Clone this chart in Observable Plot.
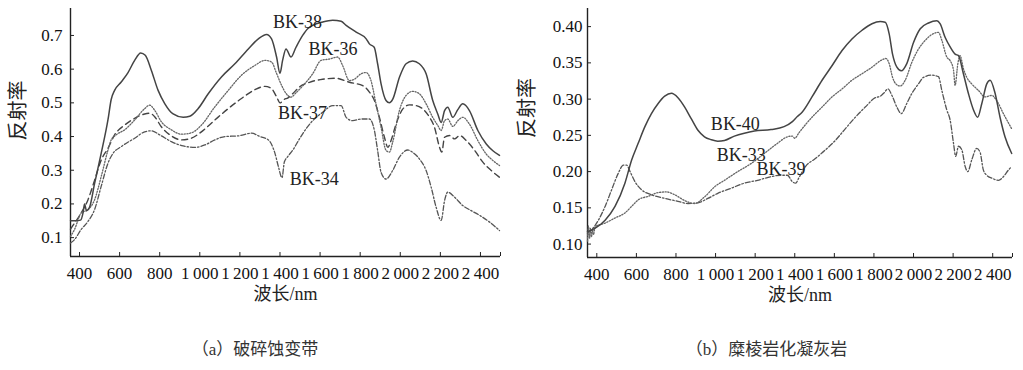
<!DOCTYPE html>
<html><head><meta charset="utf-8">
<script src="https://cdn.jsdelivr.net/npm/d3@7"></script>
<script src="https://cdn.jsdelivr.net/npm/@observablehq/plot@0.6"></script>
<style>
body{margin:0;background:#fff;width:1023px;height:370px;overflow:hidden}
#row{display:flex;align-items:flex-start}
.panel svg{display:block}
.panel svg text{font-family:"Liberation Serif","Noto Sans CJK SC",serif;font-variant:normal}
.cap{text-align:center;font-family:"Liberation Serif","Noto Sans CJK SC",serif;font-size:17px;line-height:20px;color:#333;margin-top:28px}
</style></head>
<body>
<div id="row"><div class="panel" id="pa" style="width:510px"></div><div class="panel" id="pb" style="width:513px"></div></div>
<script>
// ---------- tick labels ----------
const xTicks = [400,600,800,1000,1200,1400,1600,1800,2000,2200,2400];
const xTickMarks = [400,600,800,1000,1200,1400,1600,1800,2000,2200,2400,2500];
const yTicksA = [0.1,0.2,0.3,0.4,0.5,0.6,0.7];
const yTicksB = [0.10,0.15,0.20,0.25,0.30,0.35,0.40];

// ---------- (a) 破碎蚀变带 : [wavelength nm, reflectance] ----------
const bk38 = [[355,0.150],[380,0.150],[405,0.152],[418,0.175],[425,0.200],[435,0.180],[450,0.190],[475,0.260],[508,0.350],[542,0.450],[558,0.510],[575,0.537],[608,0.562],[642,0.590],[675,0.626],[705,0.648],[728,0.641],[758,0.597],[792,0.537],[825,0.498],[867,0.467],[917,0.457],[950,0.460],[992,0.483],[1042,0.527],[1108,0.577],[1175,0.616],[1242,0.660],[1292,0.690],[1333,0.703],[1358,0.690],[1383,0.636],[1400,0.588],[1413,0.626],[1430,0.660],[1455,0.636],[1480,0.665],[1513,0.700],[1538,0.720],[1563,0.730],[1613,0.740],[1663,0.745],[1705,0.742],[1730,0.730],[1780,0.710],[1830,0.690],[1846,0.675],[1870,0.665],[1887,0.616],[1904,0.557],[1929,0.507],[1946,0.500],[1962,0.510],[1996,0.576],[2029,0.616],[2062,0.624],[2095,0.616],[2129,0.586],[2162,0.507],[2187,0.467],[2204,0.442],[2221,0.477],[2237,0.487],[2262,0.457],[2287,0.480],[2312,0.497],[2345,0.477],[2387,0.418],[2429,0.378],[2462,0.358],[2495,0.344]];
const bk36 = [[355,0.104],[375,0.124],[408,0.173],[442,0.183],[475,0.212],[508,0.281],[542,0.360],[558,0.390],[583,0.405],[625,0.420],[675,0.449],[725,0.483],[750,0.493],[775,0.478],[808,0.444],[858,0.420],[908,0.407],[958,0.411],[1008,0.434],[1075,0.488],[1142,0.537],[1208,0.582],[1275,0.611],[1325,0.626],[1358,0.621],[1383,0.587],[1408,0.552],[1430,0.528],[1455,0.517],[1480,0.530],[1513,0.550],[1563,0.586],[1605,0.626],[1647,0.630],[1688,0.636],[1713,0.610],[1746,0.566],[1771,0.570],[1804,0.586],[1829,0.590],[1854,0.566],[1879,0.497],[1904,0.428],[1929,0.359],[1946,0.354],[1962,0.383],[1996,0.478],[2029,0.522],[2062,0.534],[2095,0.527],[2129,0.497],[2162,0.457],[2187,0.433],[2204,0.418],[2221,0.447],[2237,0.452],[2262,0.430],[2287,0.447],[2312,0.457],[2345,0.437],[2387,0.388],[2429,0.348],[2462,0.329],[2495,0.314]];
const bk37 = [[355,0.125],[375,0.143],[408,0.173],[442,0.212],[475,0.270],[508,0.330],[542,0.365],[575,0.405],[625,0.434],[675,0.454],[725,0.467],[750,0.469],[775,0.459],[808,0.429],[858,0.402],[908,0.390],[958,0.395],[1008,0.414],[1075,0.449],[1142,0.483],[1208,0.513],[1275,0.539],[1325,0.549],[1358,0.542],[1383,0.518],[1400,0.500],[1420,0.510],[1440,0.515],[1463,0.527],[1497,0.547],[1547,0.561],[1613,0.570],[1680,0.573],[1746,0.561],[1813,0.551],[1846,0.532],[1871,0.507],[1896,0.457],[1921,0.398],[1938,0.368],[1954,0.388],[1979,0.437],[2013,0.482],[2046,0.494],[2079,0.492],[2112,0.482],[2146,0.457],[2171,0.427],[2196,0.368],[2207,0.354],[2221,0.398],[2246,0.403],[2271,0.393],[2296,0.403],[2329,0.388],[2371,0.359],[2412,0.324],[2454,0.299],[2495,0.279]];
const bk34 = [[355,0.084],[375,0.094],[408,0.124],[442,0.148],[475,0.183],[508,0.252],[542,0.321],[567,0.350],[608,0.370],[675,0.395],[725,0.414],[758,0.417],[800,0.405],[858,0.385],[917,0.372],[975,0.368],[1025,0.375],[1075,0.390],[1125,0.400],[1192,0.402],[1258,0.410],[1300,0.400],[1342,0.390],[1375,0.350],[1392,0.311],[1410,0.278],[1422,0.325],[1438,0.340],[1463,0.359],[1497,0.393],[1530,0.423],[1563,0.447],[1613,0.472],[1663,0.492],[1705,0.492],[1730,0.457],[1763,0.447],[1805,0.452],[1846,0.452],[1871,0.418],[1887,0.359],[1904,0.294],[1929,0.274],[1962,0.299],[1996,0.339],[2038,0.360],[2062,0.353],[2095,0.334],[2129,0.299],[2154,0.250],[2179,0.190],[2204,0.151],[2221,0.210],[2237,0.235],[2271,0.220],[2312,0.195],[2354,0.180],[2396,0.166],[2446,0.146],[2495,0.121]];
const labelsA = ["BK-38","BK-36","BK-37","BK-34"];
const labelsANm = [1487,1665,1512,1571];
const labelsAR = [0.739,0.659,0.468,0.274];

// ---------- (b) 糜棱岩化凝灰岩 ----------
const bk40 = [[353,0.117],[392,0.122],[442,0.133],[492,0.152],[542,0.184],[576,0.216],[609,0.239],[643,0.262],[676,0.280],[710,0.294],[743,0.304],[777,0.308],[810,0.302],[844,0.289],[877,0.273],[911,0.257],[944,0.248],[978,0.244],[1011,0.242],[1045,0.243],[1095,0.249],[1145,0.253],[1196,0.256],[1280,0.258],[1346,0.262],[1388,0.269],[1413,0.276],[1437,0.282],[1487,0.303],[1538,0.326],[1588,0.346],[1639,0.367],[1689,0.383],[1740,0.395],[1790,0.404],[1832,0.407],[1857,0.406],[1877,0.390],[1894,0.362],[1916,0.344],[1938,0.339],[1966,0.349],[2000,0.378],[2034,0.397],[2076,0.405],[2118,0.408],[2134,0.404],[2160,0.385],[2185,0.372],[2210,0.362],[2227,0.360],[2252,0.335],[2277,0.308],[2303,0.285],[2324,0.275],[2345,0.294],[2370,0.321],[2387,0.326],[2412,0.308],[2437,0.275],[2462,0.248],[2496,0.225]];
const bk33 = [[353,0.104],[358,0.125],[363,0.108],[368,0.122],[373,0.110],[378,0.121],[383,0.113],[392,0.124],[442,0.129],[492,0.136],[542,0.143],[576,0.152],[609,0.161],[660,0.166],[710,0.171],[752,0.172],[794,0.168],[844,0.160],[894,0.156],[944,0.165],[995,0.179],[1045,0.188],[1112,0.200],[1179,0.211],[1246,0.225],[1313,0.239],[1363,0.248],[1388,0.249],[1400,0.246],[1420,0.253],[1437,0.259],[1487,0.275],[1538,0.289],[1588,0.303],[1639,0.314],[1689,0.326],[1740,0.335],[1790,0.344],[1840,0.354],[1860,0.356],[1877,0.349],[1894,0.330],[1911,0.321],[1933,0.318],[1958,0.326],[1992,0.351],[2025,0.369],[2059,0.381],[2092,0.389],[2126,0.392],[2143,0.381],[2168,0.358],[2185,0.353],[2202,0.340],[2210,0.319],[2224,0.349],[2235,0.360],[2252,0.342],[2269,0.330],[2294,0.321],[2328,0.312],[2361,0.303],[2395,0.305],[2420,0.298],[2454,0.280],[2496,0.259]];
const bk39 = [[353,0.115],[375,0.120],[408,0.133],[442,0.152],[475,0.175],[509,0.198],[534,0.209],[551,0.209],[568,0.200],[593,0.186],[626,0.175],[676,0.168],[743,0.163],[810,0.159],[861,0.156],[911,0.157],[961,0.163],[1011,0.170],[1078,0.177],[1145,0.184],[1212,0.188],[1280,0.193],[1330,0.195],[1363,0.195],[1388,0.186],[1405,0.184],[1420,0.191],[1454,0.207],[1504,0.218],[1555,0.230],[1605,0.243],[1655,0.259],[1706,0.275],[1756,0.289],[1807,0.302],[1832,0.304],[1849,0.308],[1871,0.314],[1891,0.305],[1916,0.289],[1938,0.280],[1966,0.294],[1992,0.308],[2025,0.321],[2050,0.330],[2092,0.333],[2126,0.331],[2143,0.312],[2168,0.285],[2185,0.271],[2202,0.239],[2213,0.221],[2227,0.235],[2244,0.230],[2261,0.207],[2274,0.200],[2294,0.216],[2319,0.232],[2336,0.227],[2353,0.202],[2370,0.195],[2395,0.191],[2429,0.188],[2454,0.193],[2479,0.202],[2496,0.207]];
const labelsB = ["BK-40","BK-33","BK-39"];
const labelsBNm = [1100,1130,1330];
const labelsBR = [0.265,0.223,0.203];

const captionA = "（a）破碎蚀变带";
const captionB = "（b）糜棱岩化凝灰岩";
const xLabel = "波长/nm";
const yLabel = "反射率";

// ---------- styles ----------
const FONT = "Liberation Serif, Noto Sans CJK SC, serif";
const solid = {stroke:"#444", strokeWidth:1.5};
const dotted = {stroke:"#666", strokeWidth:1.3, strokeDasharray:"1.2,1.6"};
const dashed = {stroke:"#444", strokeWidth:1.4, strokeDasharray:"6,4"};
const dashdot = {stroke:"#555", strokeWidth:1.3, strokeDasharray:"5,2,1.5,2"};

const fmtNm = d => d >= 1000 ? `${Math.floor(d/1000)}\u2009${String(d%1000).padStart(3,"0")}` : `${d}`;

function panel({series, names, nms, rs, xDomain, yDomain, yTicks, yFmt, width, mL, mR, mB, yPad, ylDx, ylDy}) {
  const marks = [
    Plot.axisX({ticks: xTicks, tickFormat: fmtNm, tickSize: 0, tickPadding: 10, label: null, fontFamily: FONT, fontSize: 17, fontVariant: "normal", fill: "#111"}),
    Plot.axisY({ticks: yTicks, tickFormat: yFmt, tickSize: 0, tickPadding: yPad, label: null, fontFamily: FONT, fontSize: 17, fontVariant: "normal", fill: "#111"}),
    Plot.ruleX([xDomain[0]], {stroke:"#222", strokeWidth:1.4}),
    Plot.ruleY([yDomain[0]], {stroke:"#222", strokeWidth:1.4}),
    Plot.ruleX(xTickMarks, {y1: yDomain[0], y2: yDomain[0], insetBottom: 4, stroke:"#222"}),
    Plot.ruleY(yTicks, {x1: xDomain[0], x2: xDomain[0], insetRight: -4, stroke:"#222"}),
  ];
  for (const [data, st] of series) {
    marks.push(Plot.line(data, {x: d => d[0], y: d => d[1], curve: "monotone-x", ...st}));
  }
  marks.push(Plot.text(names, {x: nms, y: rs, text: d => d, fontSize: 18, fontFamily: FONT, fill: "#222", textAnchor: "middle"}));
  marks.push(Plot.text([xLabel], {frameAnchor: "bottom", dy: 43, fontSize: 18, fontFamily: FONT, fill: "#222"}));
  marks.push(Plot.text([yLabel], {frameAnchor: "left", rotate: -90, dx: ylDx, dy: ylDy, fontSize: 20, fontFamily: FONT, fill: "#222"}));
  return Plot.plot({
    width, height: 312, marginLeft: mL, marginRight: mR, marginTop: 8, marginBottom: mB,
    style: {fontFamily: FONT, fontSize: "17px", color: "#222", background: "transparent"},
    x: {domain: xDomain},
    y: {domain: yDomain},
    marks
  });
}

const pa = panel({
  series: [[bk34, dashdot],[bk37, dashed],[bk36, dotted],[bk38, solid]],
  names: labelsA, nms: labelsANm, rs: labelsAR,
  xDomain: [355, 2500], yDomain: [0.044, 0.78], yTicks: yTicksA, yFmt: d3.format(".1f"),
  width: 510, mL: 70, mR: 10, mB: 56, yPad: 8, ylDx: -52, ylDy: 8
});
const pb = panel({
  series: [[bk39, dashdot],[bk33, dotted],[bk40, solid]],
  names: labelsB, nms: labelsBNm, rs: labelsBR,
  xDomain: [353, 2500], yDomain: [0.0815, 0.425], yTicks: yTicksB, yFmt: d3.format(".2f"),
  width: 513, mL: 77, mR: 11, mB: 55, yPad: 5, ylDx: -60, ylDy: 5
});
document.getElementById("pa").append(pa);
document.getElementById("pb").append(pb);
for (const [id, t] of [["pa", captionA], ["pb", captionB]]) {
  const c = document.createElement("div"); c.className = "cap"; c.textContent = t;
  document.getElementById(id).append(c);
}
</script>
</body></html>
